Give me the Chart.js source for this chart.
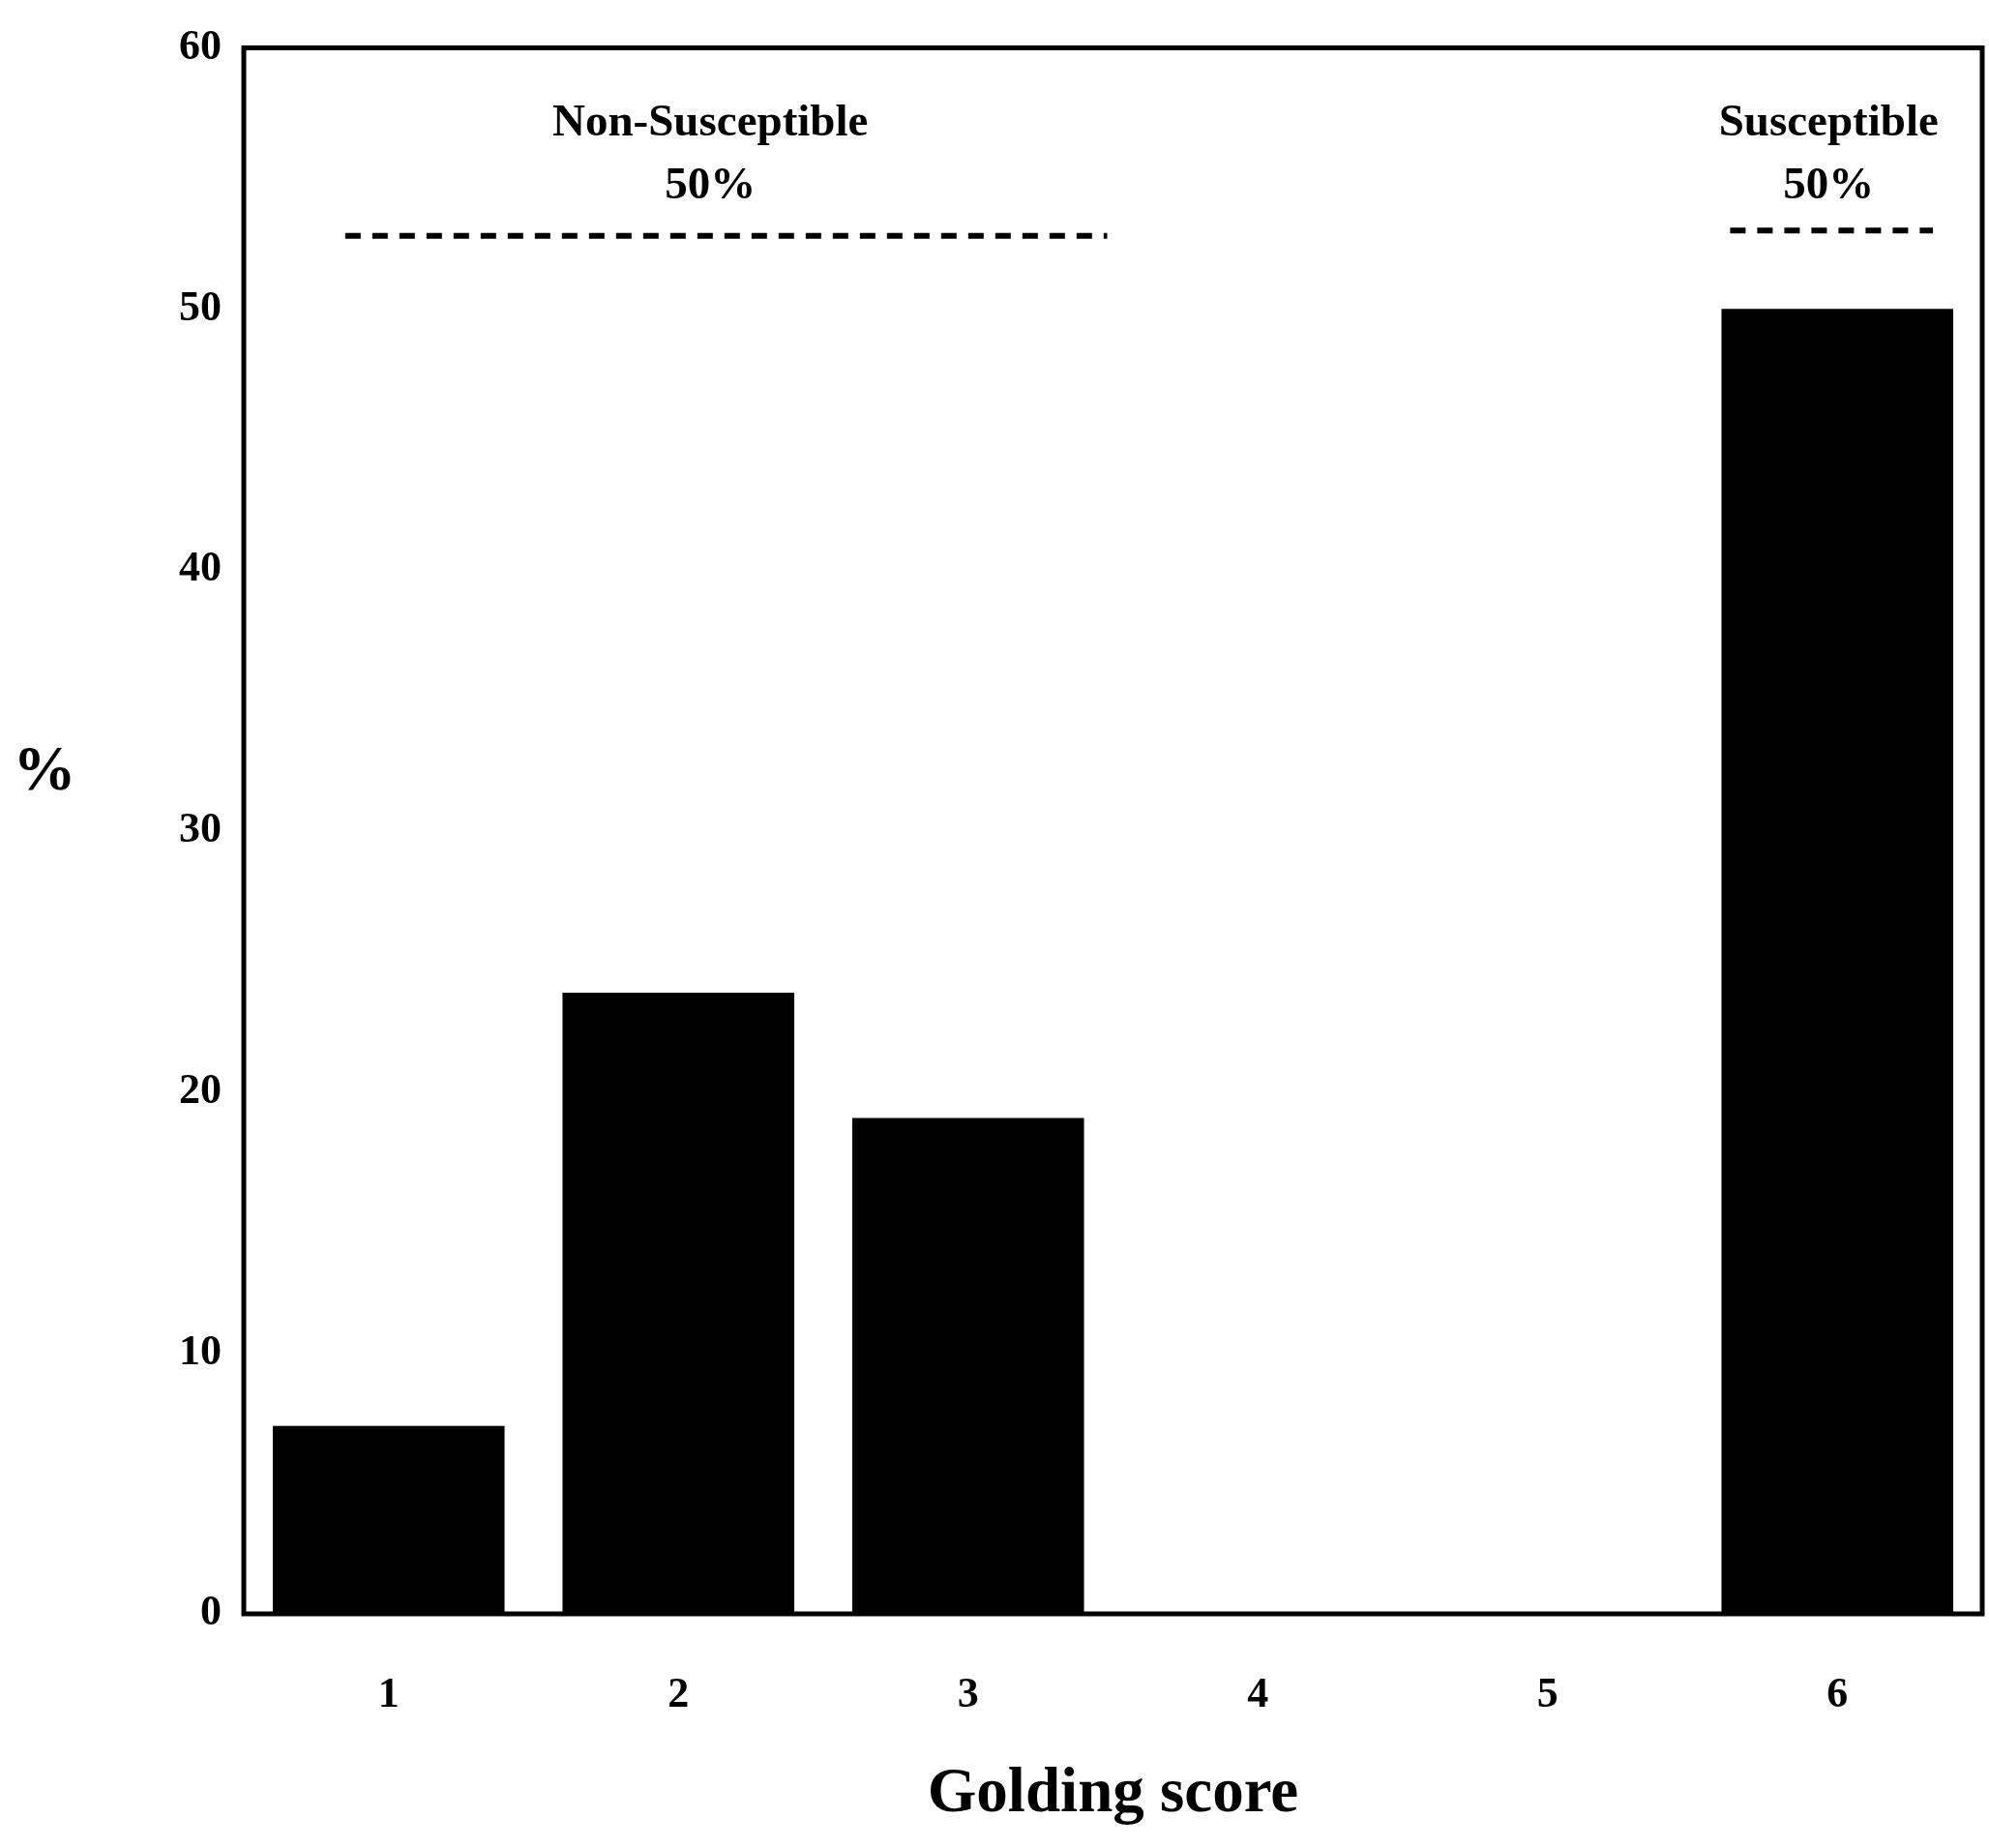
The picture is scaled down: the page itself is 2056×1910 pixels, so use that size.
<!DOCTYPE html>
<html><head><meta charset="utf-8">
<script src="https://cdn.jsdelivr.net/npm/chart.js@4/dist/chart.umd.min.js"></script>
<style>body{margin:0;background:#fff}</style></head>
<body><canvas id="c" width="2056" height="1910"></canvas>
<script>
const categories = ["1","2","3","4","5","6"];
const percentValues = [7.2, 23.8, 19.0, 0, 0, 50.0];
const yTicks = [0,10,20,30,40,50,60];
const groupLabels = [
  {lines:["Non-Susceptible","50%"], xCenter:1.11, lineFrom:-0.15, lineTo:2.48, lineY:52.8},
  {lines:["Susceptible","50%"], xCenter:4.97, lineFrom:4.63, lineTo:5.33, lineY:53.0}
];
const FONT = "'Liberation Serif','Times New Roman',serif";

const overlay = {
  id:'overlay',
  afterDraw(chart){
    const {ctx, chartArea:a, scales:{x,y}} = chart;
    ctx.save();
    ctx.strokeStyle='#000'; ctx.lineWidth=5;
    ctx.strokeRect(a.left, a.top, a.right-a.left, a.bottom-a.top);
    ctx.fillStyle='#000';
    ctx.font = "bold 47px "+FONT;
    ctx.textAlign='center'; ctx.textBaseline='middle';
    groupLabels.forEach(g=>{
      const cx = x.getPixelForValue(g.xCenter);
      ctx.fillText(g.lines[0], cx, y.getPixelForValue(57.1));
      ctx.fillText(g.lines[1], cx, y.getPixelForValue(54.7));
      ctx.setLineDash([16,12]); ctx.lineWidth=6;
      ctx.beginPath();
      const ly = y.getPixelForValue(g.lineY);
      ctx.moveTo(x.getPixelForValue(g.lineFrom), ly);
      ctx.lineTo(x.getPixelForValue(g.lineTo), ly);
      ctx.stroke();
      ctx.setLineDash([]);
    });
    ctx.font = "bold 65px "+FONT;
    ctx.fillText('%', 46, y.getPixelForValue(32.2));
    ctx.restore();
  }
};

new Chart(document.getElementById('c'), {
  type:'bar',
  data:{labels:categories, datasets:[{data:percentValues, backgroundColor:'#000', borderWidth:0, categoryPercentage:1, barPercentage:0.8}]},
  options:{
    responsive:false, animation:false, devicePixelRatio:1,
    layout:{padding:{left:0, top:22, right:7, bottom:16}},
    plugins:{legend:{display:false}, tooltip:{enabled:false}},
    scales:{
      x:{grid:{display:false, drawTicks:false}, border:{display:false},
         ticks:{color:'#000', font:{family:FONT, size:44, weight:'bold'}, padding:58},
         title:{display:true, text:'Golding score', color:'#000', font:{family:FONT, size:65, weight:'bold'}, padding:{top:40,bottom:0}},
         afterFit(s){ s.height = 226; }},
      y:{min:0, max:60, grid:{display:false, drawTicks:false}, border:{display:false},
         afterBuildTicks(s){ s.ticks = yTicks.map(v=>({value:v})); },
         ticks:{color:'#000', font:{family:FONT, size:44, weight:'bold'}, padding:23},
         afterFit(s){ s.width = 252; }}
    }
  },
  plugins:[overlay]
});
</script></body></html>
